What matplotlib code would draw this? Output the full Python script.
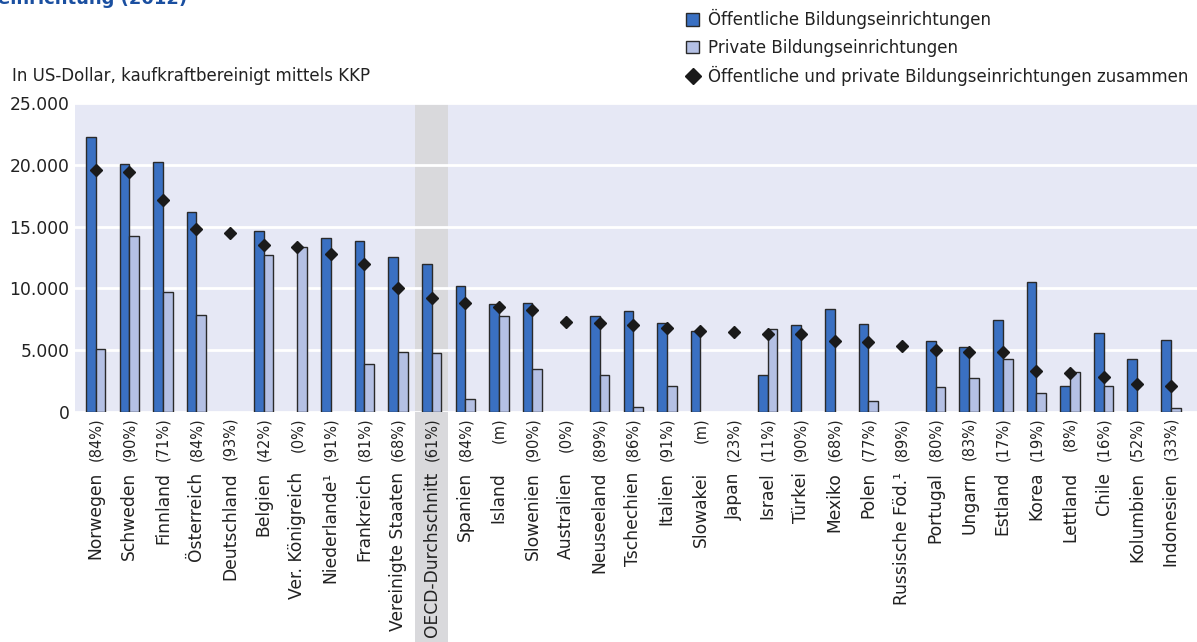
import numpy as np
import matplotlib
matplotlib.use("Agg")
from matplotlib import pyplot as plt
from matplotlib.patches import Patch, Rectangle
from matplotlib.lines import Line2D
from matplotlib.transforms import blended_transform_factory

nan = np.nan

countries = ["Norwegen", "Schweden", "Finnland", "Österreich", "Deutschland", "Belgien",
             "Ver. Königreich", "Niederlande¹", "Frankreich", "Vereinigte Staaten",
             "OECD-Durchschnitt", "Spanien", "Island", "Slowenien", "Australien",
             "Neuseeland", "Tschechien", "Italien", "Slowakei", "Japan", "Israel",
             "Türkei", "Mexiko", "Polen", "Russische Föd.¹", "Portugal", "Ungarn",
             "Estland", "Korea", "Lettland", "Chile", "Kolumbien", "Indonesien"]

shares = ["(84%)", "(90%)", "(71%)", "(84%)", "(93%)", "(42%)", "(0%)", "(91%)", "(81%)",
          "(68%)", "(61%)", "(84%)", "(m)", "(90%)", "(0%)", "(89%)", "(86%)", "(91%)",
          "(m)", "(23%)", "(11%)", "(90%)", "(68%)", "(77%)", "(89%)", "(80%)", "(83%)",
          "(17%)", "(19%)", "(8%)", "(16%)", "(52%)", "(33%)"]

public = [22250, 20050, 20250, 16150, nan, 14650, nan, 14100, 13800, 12500,
          11950, 10200, 8700, 8800, nan, 7750, 8150, 7200, 6550, nan, 2950,
          7000, 8300, 7100, nan, 5750, 5250, 7400, 10550, 2100, 6400, 4250, 5800]

private = [5050, 14250, 9700, 7800, nan, 12700, 13350, nan, 3850, 4850,
           4750, 1050, 7750, 3450, nan, 2950, 400, 2050, nan, nan, 6700,
           nan, nan, 900, nan, 2000, 2750, 4300, 1550, 3200, 2100, nan, 300]

combined = [19600, 19450, 17150, 14850, 14450, 13500, 13350, 12800, 12000, 10050,
            9250, 8800, 8500, 8250, 7300, 7200, 7000, 6750, 6550, 6450, 6300,
            6300, 5700, 5650, 5300, 5000, 4850, 4850, 3300, 3150, 2800, 2250, 2100]

c_pub = "#3a70c2"
c_priv = "#b4c0e4"
c_bg = "#e6e8f5"
c_shade = "#d9d9dc"

plt.rcParams["font.family"] = ["DejaVu Sans"]

W, H = 1197, 642
fig = plt.figure(figsize=(W / 100, H / 100), dpi=100)
ax = fig.add_axes([75 / W, 1 - 411.7 / H, (W - 75) / W, (411.7 - 103.3) / H])
ax.set_facecolor(c_bg)

x = np.arange(len(countries))
bw = 0.29
oecd = countries.index("OECD-Durchschnitt")

ax.axvspan(oecd - 0.49, oecd + 0.49, color=c_shade, lw=0, zorder=0.2)
# shade goes on below the axis, behind the labels
trans = blended_transform_factory(ax.transData, fig.transFigure)
fig.add_artist(Rectangle((oecd - 0.49, 0), 0.98, 1 - 411.7 / H, transform=trans,
                         facecolor=c_shade, lw=0, zorder=-1))

ax.bar(x - bw / 2, public, bw, color=c_pub, edgecolor="#2a2a2a", lw=1, zorder=2)
ax.bar(x + bw / 2, private, bw, color=c_priv, edgecolor="#2a2a2a", lw=1, zorder=2)
ax.plot(x, combined, "D", color="#1a1a1a", ms=6.3, ls="none", zorder=3)

ax.set_xlim(-0.616, 32.78)
ax.set_ylim(0, 25000)
ax.set_yticks(np.arange(0, 25001, 5000))
ax.yaxis.set_major_formatter(plt.FuncFormatter(lambda v, loc: "{:,}".format(int(v)).replace(",", ".")))
ax.tick_params(axis="y", length=0, pad=4, labelsize=12.3, labelcolor="#222222")
ax.set_xticks([])
ax.set_axisbelow(True)
ax.grid(axis="y", color="white", lw=2)
for s in ax.spines.values():
    s.set_visible(False)

for i in x:
    ax.text(i, 1 - 417 / H, shares[i], transform=trans, rotation=90, ha="center", va="top",
            fontsize=10.5, color="#222222")
    ax.text(i, 1 - 472 / H, countries[i], transform=trans, rotation=90, ha="center", va="top",
            fontsize=12.3, color="#222222")

# title cut off at the top of the picture, as in the source
fig.text(-2 / W, 1 - 4 / H, "einrichtung (2012)", fontsize=13, fontweight="bold",
         color="#1a4fa0", ha="left", va="baseline")
fig.text(12 / W, 1 - 76 / H, "In US-Dollar, kaufkraftbereinigt mittels KKP", fontsize=12,
         color="#222222", ha="left", va="center")

handles = [Patch(facecolor=c_pub, edgecolor="#2a2a2a", lw=1),
           Patch(facecolor=c_priv, edgecolor="#2a2a2a", lw=1),
           Line2D([], [], marker="D", color="#1a1a1a", ms=8, ls="none")]
labels = ["Öffentliche Bildungseinrichtungen", "Private Bildungseinrichtungen",
          "Öffentliche und private Bildungseinrichtungen zusammen"]
fig.legend(handles, labels, loc="upper left", bbox_to_anchor=(686 / W, 1 - 9 / H),
           frameon=False, fontsize=12, borderpad=0, borderaxespad=0,
           handlelength=0.8, handleheight=0.8, handletextpad=0.5, labelspacing=0.58,
           labelcolor="#222222")

fig.savefig("out.png", dpi=100)
